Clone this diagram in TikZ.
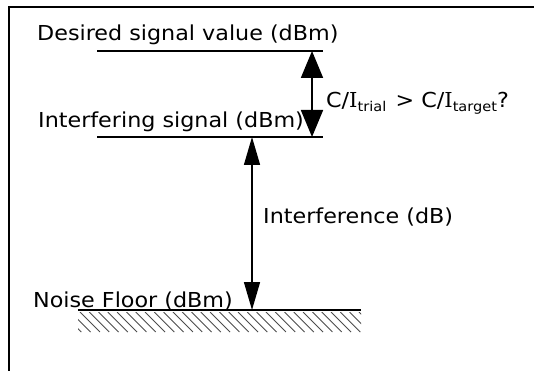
\documentclass[tikz,border=0pt]{standalone}
\usepackage{fontspec}
\setmainfont{DejaVu Sans}[FakeStretch=1.08]
\newfontfamily\serifI{DejaVu Serif}[FakeStretch=1.03]
\usetikzlibrary{arrows.meta}
\begin{document}
\begin{tikzpicture}[x=1pt,y=-1pt,
  txt/.style={anchor=base west,inner sep=0pt,font=\fontsize{20.6}{24}\selectfont},
  level/.style={line width=1.3pt},
  bigarrow/.style={line width=1.8pt,{Triangle[width=22pt,length=27pt]}-{Triangle[width=22pt,length=27pt]}},
  smallarrow/.style={line width=1.5pt,{Triangle[width=16pt,length=28pt]}-{Triangle[width=16pt,length=28pt]}},
  hatchline/.style={line width=0.9pt,draw=black!70}]
\useasboundingbox (0,0) rectangle (534,371);
% frame
\coordinate (fTR) at (534,7);
\coordinate (fTL) at (9,7);
\coordinate (fBL) at (9,371);
\draw[line width=2pt] (fTR) -- (fTL) -- (fBL);
% levels
\coordinate (dL) at (97,51);  \coordinate (dR) at (323,51);
\coordinate (iL) at (97,137); \coordinate (iR) at (323,137);
\coordinate (nL) at (78,310); \coordinate (nR) at (361,310);
\draw[level] (dL) -- (dR);
\draw[level] (iL) -- (iR);
\draw[level] (nL) -- (nR);
% hatch
\begin{scope}
\clip (78,312) rectangle (361,332);
\foreach \x in {52,61.3,...,370}{
  \draw[hatchline] (\x,312) -- ++(20,20);
}
\end{scope}
% arrows
\coordinate (a1t) at (312,51); \coordinate (a1b) at (312,137);
\coordinate (a2t) at (252,137); \coordinate (a2b) at (252,310);
\draw[bigarrow] (a1t) -- (a1b);
\draw[smallarrow] (a2t) -- (a2b);
% texts
\node[txt] (desired) at (37,41) {Desired signal value (dBm)};
\node[txt] (interf) at (38,128) {Interfering signal (dBm)};
\node[txt] (noise) at (33,307) {Noise Floor (dBm)};
\node[txt] (interdb) at (263,223) {Interference (dB)};
\node[txt] (ci) at (326,108) {C/{\serifI I}\raisebox{-4pt}{\fontsize{13.5}{16}\selectfont trial}\hspace{0.45em}> C/{\serifI I}\raisebox{-4pt}{\fontsize{13.5}{16}\selectfont target}?};
\end{tikzpicture}
\end{document}
